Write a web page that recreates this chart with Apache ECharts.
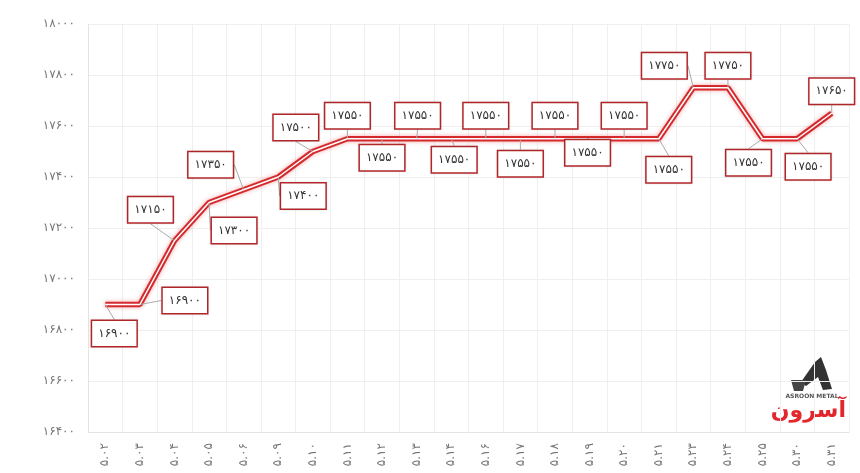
<!DOCTYPE html>
<html>
<head>
<meta charset="utf-8">
<script src="https://cdn.jsdelivr.net/npm/echarts@6/dist/echarts.min.js"></script>
<style>
html,body{margin:0;padding:0;background:#fff;}
#chart{width:860px;height:473px;}
</style>
</head>
<body>
<div id="chart"></div>
<script>
// ---- data ----
const categories = ['5.02','5.03','5.04','5.05','5.06','5.09','5.10','5.11','5.12','5.13','5.14','5.16','5.17','5.18','5.19','5.20','5.21','5.23','5.24','5.25','5.30','5.31'];
const prices = [16900,16900,17150,17300,17350,17400,17500,17550,17550,17550,17550,17550,17550,17550,17550,17550,17550,17750,17750,17550,17550,17650];
const yTicks = {min:16400, max:18000, interval:200};

// label placement (offset of each label box from its point, px)
const labelOffsets = [
  [9,29],[45,-4],[-24,-31],[25,28],[-33,-25],[25,19],[-17,-24],[0,-23],[0,19],[1,-23],
  [3,21],[0,-23],[0,25],[0,-23],[-2,14],[0,-23],[10,31],[-29,-22],[0,-22],[-14,24],
  [11,28],[0,-22]
];

const fa = ['۰','۱','۲','۳','۴','۵','۶','۷','۸','۹'];
function toFa(s){ return String(s).replace(/[0-9]/g, d => fa[+d]); }

const chart = echarts.init(document.getElementById('chart'));
const faFont = "'DejaVu Sans', 'Noto Sans', sans-serif";

chart.setOption({
  animation:false,
  backgroundColor:'#fff',
  grid:{left:88, right:11, top:24, bottom:41},
  xAxis:{
    type:'category',
    data:categories,
    boundaryGap:true,
    axisLine:{lineStyle:{color:'#e3e3e3'}},
    axisTick:{show:false},
    splitLine:{show:true, interval:0, lineStyle:{color:'#efefef'}},
    axisLabel:{interval:0, rotate:90, color:'#777', fontSize:12, fontFamily:faFont, margin:11,
      formatter:v=>toFa(v)}
  },
  yAxis:{
    type:'value',
    min:yTicks.min, max:yTicks.max, interval:yTicks.interval,
    axisLine:{show:true, lineStyle:{color:'#e3e3e3'}},
    axisTick:{show:false},
    splitLine:{lineStyle:{color:'#efefef'}},
    axisLabel:{color:'#777', fontSize:12, fontFamily:faFont, margin:13, formatter:v=>toFa(v)}
  },
  series:[
    {
      type:'line',
      data:prices,
      symbol:'none',
      silent:true,
      lineStyle:{color:'#d42a2e', width:5.5, shadowColor:'rgba(230,60,60,0.45)', shadowBlur:4},
      z:2
    },
    {
      type:'line',
      data:prices,
      symbol:'circle',
      symbolSize:1,
      showSymbol:true,
      itemStyle:{color:'rgba(255,255,255,0)'},
      lineStyle:{color:'#ffffff', width:1.5},
      z:3,
      label:{
        show:true,
        position:'inside',
        formatter:p=>toFa(p.value),
        color:'#333',
        fontSize:12,
        fontFamily:faFont,
        backgroundColor:'#fff',
        borderColor:'#b8282c',
        borderWidth:1.5,
        padding:[7,6,6,6],
        shadowColor:'rgba(0,0,0,0.15)',
        shadowBlur:2
      },
      labelLine:{show:true, lineStyle:{color:'#aaa', width:1}},
      labelLayout:function(params){
        const o = labelOffsets[params.dataIndex] || [0,0];
        return {dx:o[0], dy:o[1]};
      }
    }
  ],
  graphic:[
    {type:'polygon', shape:{points:[[815,362],[821,357],[826,370],[832,389],[823,390],[818,377],[806,386],[801,382]]}, style:{fill:'#333'}},
    {type:'polygon', shape:{points:[[791,380],[806,380],[803,391],[794,391]]}, style:{fill:'#444'}},
    {type:'text', x:812, y:393, style:{text:'ASROON METAL', fill:'#555', font:'bold 6px "DejaVu Sans"', align:'center', textAlign:'center'}},
    {type:'text', x:846, y:400, style:{text:'آسرون', fill:'#e3262b', font:'bold 22px "DejaVu Sans"', align:'right', textAlign:'right'}}
  ]
});
</script>
</body>
</html>
